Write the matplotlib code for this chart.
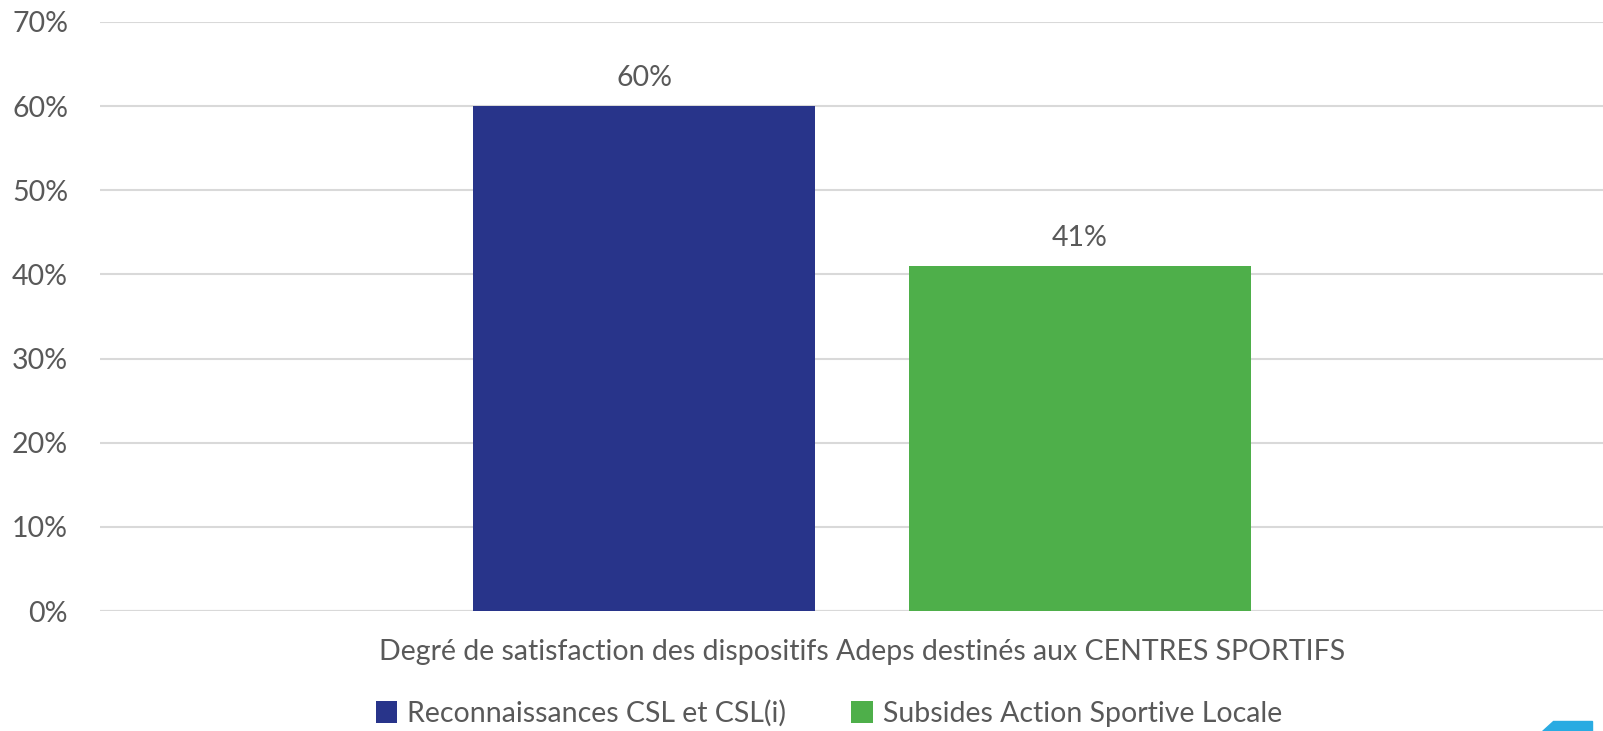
"""Satisfaction bar chart for Adeps schemes aimed at sports centres."""

import matplotlib
import matplotlib.pyplot as plt
from matplotlib.patches import Polygon
from matplotlib.ticker import PercentFormatter

matplotlib.use("Agg")

plt.rcParams["font.family"] = ["Lato", "DejaVu Sans"]

# Data
category = "Degré de satisfaction des dispositifs Adeps destinés aux CENTRES SPORTIFS"
series_names = ["Reconnaissances CSL et CSL(i)", "Subsides Action Sportive Locale"]
series_values = [0.60, 0.41]
y_ticks = [0.0, 0.1, 0.2, 0.3, 0.4, 0.5, 0.6, 0.7]

colors = ["#28348A", "#4EAF4A"]
text_color = "#595959"
grid_color = "#D9D9D9"
fs = 20.5

fig = plt.figure(figsize=(16.03, 7.31), dpi=100)
ax = fig.add_axes([0.0624, 0.164, 0.9376, 0.806])

bar_width = 0.2275
offsets = [-0.138, 0.152]
for name, val, off, col in zip(series_names, series_values, offsets, colors):
    ax.bar(off, val, width=bar_width, color=col, label=name, zorder=3)
    ax.annotate(f"{val:.0%}", (off, val), xytext=(0, 11), textcoords="offset points",
                ha="center", va="bottom", fontsize=fs, color=text_color)

ax.set_xlim(-0.5, 0.5)
ax.set_ylim(0, 0.7)
ax.set_yticks(y_ticks)
ax.yaxis.set_major_formatter(PercentFormatter(1.0, decimals=0))
ax.tick_params(axis="y", length=0, pad=23, labelsize=fs, labelcolor=text_color)
ax.set_xticks([sum(offsets) / 2])
ax.set_xticklabels([category])
ax.tick_params(axis="x", length=0, pad=20, labelsize=fs, labelcolor=text_color)

ax.grid(axis="y", color=grid_color, linewidth=1.5, zorder=0)
for s in ax.spines.values():
    s.set_visible(False)
ax.axhline(0, color=grid_color, linewidth=1.5, zorder=1)

fig.legend(loc="center", bbox_to_anchor=(0.517, 0.024), ncol=2, frameon=False,
           fontsize=fs, labelcolor=text_color, handlelength=0.75, handleheight=0.8,
           handletextpad=0.35, columnspacing=2.3)

# decorative corner shape
fig.patches.append(Polygon([(0.962, 0.0), (0.993, 0.0), (0.993, 0.014), (0.969, 0.014)],
                           closed=True, transform=fig.transFigure, color="#29ABE2"))

fig.savefig("out.png")
